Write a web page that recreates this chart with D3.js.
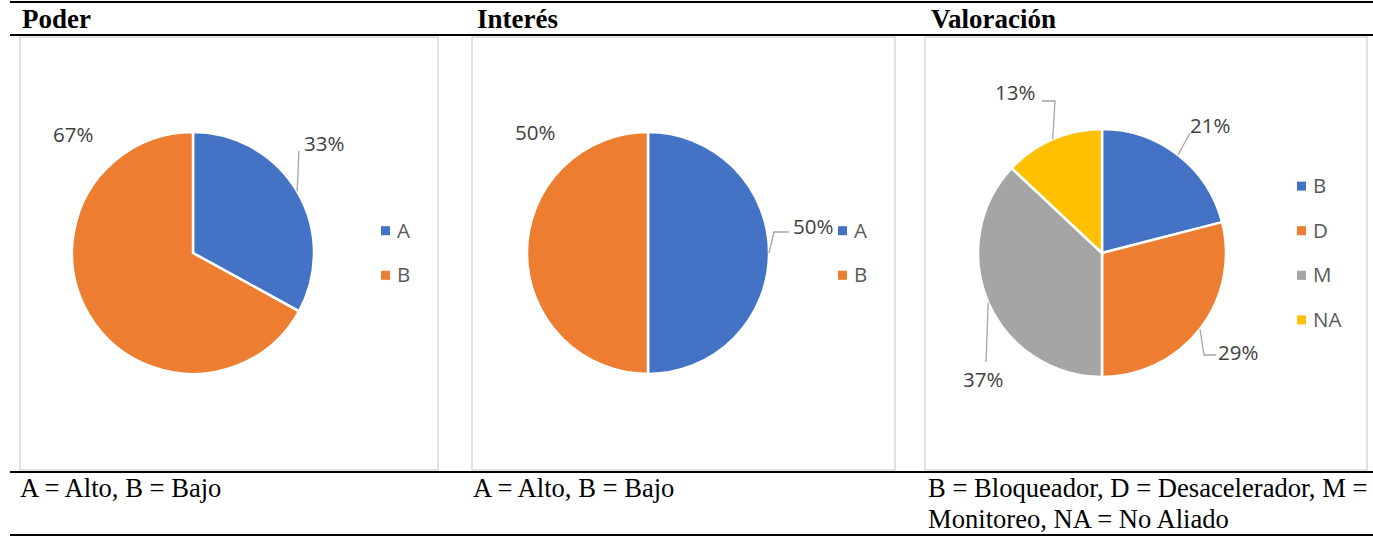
<!DOCTYPE html>
<html>
<head>
<meta charset="utf-8">
<script src="https://cdn.jsdelivr.net/npm/d3@7"></script>
<style>
  body { margin: 0; background: #fff; }
  svg { display: block; }
</style>
</head>
<body>
<svg width="1373" height="537"></svg>
<script>
// data
const headers = ['Poder', 'Interés', 'Valoración'];
const poderCats = ['A', 'B'];
const poderVals = [33, 67];
const interesCats = ['A', 'B'];
const interesVals = [50, 50];
const valorCats = ['B', 'D', 'M', 'NA'];
const valorVals = [21, 29, 37, 13];
const notes = [
    ['A = Alto, B = Bajo'],
    ['A = Alto, B = Bajo'],
    ['B = Bloqueador, D = Desacelerador, M =', 'Monitoreo, NA = No Aliado']
];

const colors = ['#4472C4', '#ED7D31', '#A5A5A5', '#FFC000'];

const svg = d3.select('svg'),
    width = +svg.attr('width');

// layout of each panel (box, pie centre, legend)
const panels = [
    { cats: poderCats, vals: poderVals, x0: 20, x1: 438, cx: 193, r: 121, legX: 381,
      labels: [ { x: 111, y: -109, path: [[106, -102]] }, { x: -140, y: -118, path: null } ] },
    { cats: interesCats, vals: interesVals, x0: 472, x1: 895, cx: 648, r: 121, legX: 838,
      labels: [ { x: 145, y: -26, path: [[126, -21], [141, -21]] }, { x: -133, y: -120, path: null } ] },
    { cats: valorCats, vals: valorVals, x0: 925, x1: 1367, cx: 1102, r: 124, legX: 1297,
      labels: [ { x: 88, y: -127, path: [[88, -120]] },
                { x: 116, y: 100, path: [[102, 102], [114, 102]] },
                { x: -139, y: 127, path: [[-116, 109]] },
                { x: -107, y: -160, path: [[-47, -152], [-60, -152]] } ] }
];

const cy = 253,
    boxTop = 37,
    boxBottom = 470;

// table rules
[2, 35, 472, 535].forEach(y => {
    svg.append('line')
        .attr('x1', 10).attr('x2', 1373)
        .attr('y1', y).attr('y2', y)
        .attr('stroke', '#000')
        .attr('stroke-width', 2.2);
});

const headX = [22, 477, 931];
const noteX = [20, 473, 928];

panels.forEach((p, i) => {
    svg.append('text')
        .attr('x', headX[i]).attr('y', 28)
        .attr('font-family', 'Liberation Serif, Times New Roman, serif')
        .attr('font-weight', 'bold')
        .attr('font-size', 27)
        .text(headers[i]);

    notes[i].forEach((t, k) => {
        svg.append('text')
            .attr('x', noteX[i]).attr('y', 497 + k * 31)
            .attr('font-family', 'Liberation Serif, Times New Roman, serif')
            .attr('font-size', 26.6)
            .text(t);
    });

    // chart box
    svg.append('rect')
        .attr('x', p.x0).attr('y', boxTop)
        .attr('width', p.x1 - p.x0).attr('height', boxBottom - boxTop)
        .attr('fill', '#fff')
        .attr('stroke', '#d9d9d9')
        .attr('stroke-width', 1.5);

    const g = svg.append('g').attr('transform', 'translate(' + p.cx + ',' + cy + ')');

    const pie = d3.pie().sort(null).value(d => d)(p.vals);
    const arc = d3.arc().innerRadius(0).outerRadius(p.r);
    const edge = d3.arc().innerRadius(p.r).outerRadius(p.r);

    g.selectAll('path.slice')
        .data(pie)
        .enter().append('path')
        .attr('class', 'slice')
        .attr('d', arc)
        .attr('fill', (d, j) => colors[j])
        .attr('stroke', '#fff')
        .attr('stroke-width', 2.5);

    // leader lines + labels
    pie.forEach((d, j) => {
        const lab = p.labels[j];
        if (lab.path) {
            const pts = [edge.centroid(d)].concat(lab.path);
            g.append('path')
                .attr('d', d3.line()(pts))
                .attr('fill', 'none')
                .attr('stroke', '#a6a6a6')
                .attr('stroke-width', 1.3);
        }
        g.append('text')
            .attr('x', lab.x).attr('y', lab.y)
            .attr('dy', '0.35em')
            .attr('font-family', 'Open Sans, sans-serif')
            .attr('font-size', 20.5)
            .attr('fill', '#404040')
            .text(d3.format('.0%')(d.data / d3.sum(p.vals)));
    });

    // legend
    const n = p.cats.length;
    const leg = svg.append('g')
        .selectAll('g')
        .data(p.cats)
        .enter().append('g')
        .attr('transform', (d, j) => 'translate(' + p.legX + ',' + (cy + (j - (n - 1) / 2) * 44.6) + ')');

    leg.append('rect')
        .attr('x', 0).attr('y', -4.5)
        .attr('width', 9).attr('height', 9)
        .attr('fill', (d, j) => colors[j]);

    leg.append('text')
        .attr('x', 16).attr('y', 0)
        .attr('dy', '0.35em')
        .attr('font-family', 'Open Sans, sans-serif')
        .attr('font-size', 20.5)
        .attr('fill', '#595959')
        .text(d => d);
});
</script>
</body>
</html>
